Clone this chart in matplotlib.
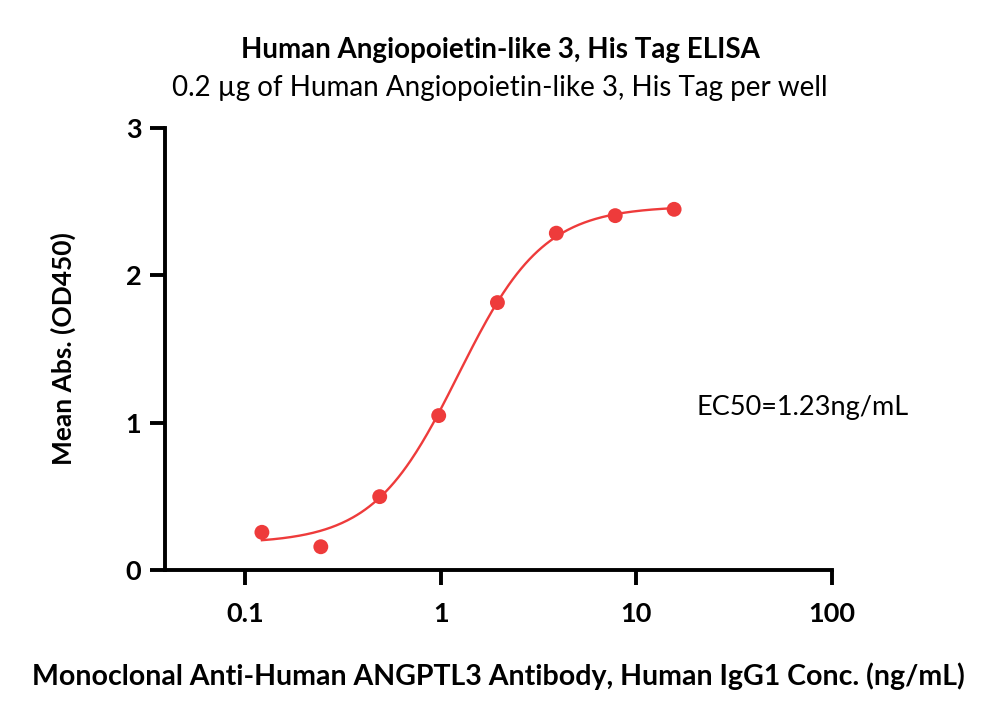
import matplotlib
matplotlib.use('Agg')
import matplotlib.pyplot as plt
import numpy as np

plt.rcParams['font.family'] = ['Lato', 'DejaVu Sans']

# concentrations (ng/mL) and mean OD450
conc = [0.122, 0.244, 0.488, 0.977, 1.95, 3.9, 7.8, 15.6]
od450 = [0.256, 0.158, 0.498, 1.048, 1.815, 2.286, 2.405, 2.448]

# 4PL fit parameters
bottom, top, ec50, hill = 0.18, 2.47, 1.23, 2.0

xfit = np.logspace(np.log10(conc[0]), np.log10(conc[-1]), 300)
yfit = bottom + (top - bottom) / (1 + (ec50 / xfit) ** hill)

red = '#ee3b3b'

fig = plt.figure(figsize=(10, 7.21), dpi=100)
ax = fig.add_axes([0.165, 0.2094, 0.667, 0.6131])

ax.plot(xfit, yfit, color=red, linewidth=1.7)
ax.scatter(conc, od450, s=115, color=red, zorder=3, edgecolors='none')

ax.set_xscale('log')
ax.set_xlim(0.039, 100)
ax.set_ylim(0, 3)
ax.set_xticks([0.1, 1, 10, 100])
ax.set_xticklabels(['0.1', '1', '10', '100'])
ax.xaxis.set_minor_locator(matplotlib.ticker.NullLocator())
ax.set_yticks([0, 1, 2, 3])

for s in ['top', 'right']:
    ax.spines[s].set_visible(False)
for s in ['left', 'bottom']:
    ax.spines[s].set_linewidth(2.8)
ax.spines['left'].set_bounds(0, 3)

ax.tick_params(axis='both', width=2.8, length=11, labelsize=19.5, pad=6)
for lab in ax.get_xticklabels() + ax.get_yticklabels():
    lab.set_fontweight('bold')
ax.tick_params(axis='x', pad=12)

ax.set_ylabel('Mean Abs. (OD450)', fontsize=19, fontweight='bold', labelpad=36)
ax.set_xlabel('Monoclonal Anti-Human ANGPTL3 Antibody, Human IgG1 Conc. (ng/mL)',
              fontsize=20.5, fontweight='bold', labelpad=26)

ax.text(70.6, 1.1, 'EC50=1.23ng/mL', fontsize=19.5, ha='center', va='center')

fig.text(0.5, 0.931, 'Human Angiopoietin-like 3, His Tag ELISA', fontsize=20,
         fontweight='bold', ha='center', va='center')
fig.text(0.5, 0.878, '0.2 µg of Human Angiopoietin-like 3, His Tag per well',
         fontsize=20, ha='center', va='center')

fig.savefig('out.png', dpi=100)
plt.close(fig)
